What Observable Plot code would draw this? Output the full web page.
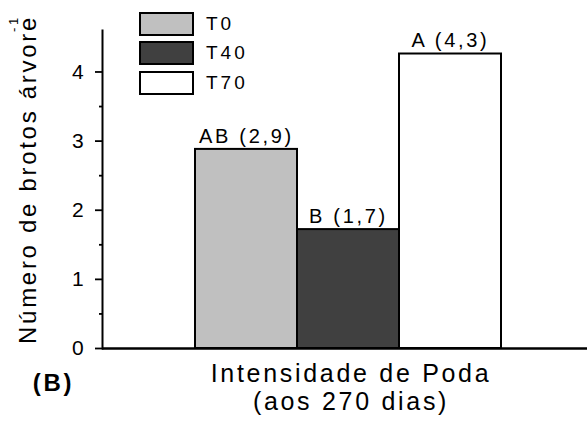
<!DOCTYPE html>
<html>
<head>
<meta charset="utf-8">
<script src="https://cdn.jsdelivr.net/npm/d3@7"></script>
<script src="https://cdn.jsdelivr.net/npm/@observablehq/plot@0.6"></script>
<style>
  html, body { margin: 0; padding: 0; background: #fff; }
  #wrap { position: relative; width: 587px; height: 426px; font-family: "Liberation Sans", Arial, sans-serif; }
  #legend { position: absolute; left: 139px; top: 9px; }
  .item { display: flex; align-items: center; height: 29.5px; }
  .sw { width: 51px; height: 20px; border: 2px solid #000; box-sizing: content-box; }
  .lab { margin-left: 12px; font-size: 19px; letter-spacing: 3px; color: #000; }
  svg text { letter-spacing: 2.7px; }
</style>
</head>
<body>
<div id="wrap"><div id="legend"></div></div>
<script>
const groups = ["T0", "T40", "T70"];
const values = [2.88, 1.72, 4.26];
const labels = ["AB (2,9)", "B (1,7)", "A (4,3)"];
const fills = ["#c0c0c0", "#404040", "#ffffff"];
const yTicks = [0, 1, 2, 3, 4];
const yMinorTicks = [0.5, 1.5, 2.5, 3.5];
const yTitle = "Número de brotos árvore";
const yTitleSup = "-1";
const xTitle = "Intensidade de Poda\n(aos 270 dias)";
const panelTag = "(B)";

const data = groups.map((g, i) => ({group: g, value: values[i], label: labels[i], fill: fills[i]}));

const chart = Plot.plot({
  width: 587,
  height: 426,
  marginLeft: 102,
  marginRight: 0,
  marginTop: 30,
  marginBottom: 78,
  style: {fontFamily: "Liberation Sans, Arial, sans-serif", color: "#000", background: "#fff"},
  x: {type: "band", domain: groups, paddingInner: 0, paddingOuter: 0.87, align: 0.52, axis: null},
  y: {domain: [0, 4.6], axis: null},
  color: {type: "identity"},
  marks: [
    Plot.barY(data, {x: "group", y: "value", fill: "fill", stroke: "#000", strokeWidth: 2}),
    Plot.ruleY([0], {stroke: "#000", strokeWidth: 2.5}),
    Plot.frame({anchor: "left", stroke: "#000", strokeWidth: 2}),
    Plot.axisY({ticks: yTicks, tickSize: 7, tickPadding: 9, tickFormat: d => d, fontSize: 21, strokeWidth: 1.8, label: null}),
    Plot.axisY({ticks: yMinorTicks, tickSize: 3, tickFormat: () => "", strokeWidth: 1.8, label: null}),
    Plot.text(data, {x: "group", y: "value", text: "label", dy: -13, fontSize: 20}),
    Plot.text([yTitle], {frameAnchor: "left", textAnchor: "middle", lineAnchor: "middle", rotate: -90, dx: -74, dy: -10, fontSize: 24}),
    Plot.text([yTitleSup], {frameAnchor: "left", textAnchor: "middle", lineAnchor: "middle", rotate: -90, dx: -89, dy: -166, fontSize: 13}),
    Plot.text([xTitle], {frameAnchor: "bottom", textAnchor: "middle", dx: 6, dy: 14, lineHeight: 1.12, fontSize: 25, lineAnchor: "top"}),
    Plot.text([panelTag], {frameAnchor: "bottom-left", textAnchor: "middle", lineAnchor: "middle", dx: -49, dy: 35, fontSize: 24, fontWeight: "bold"})
  ]
});
document.getElementById("wrap").prepend(chart);

const legend = document.getElementById("legend");
groups.forEach((g, i) => {
  const item = document.createElement("div");
  item.className = "item";
  const sw = document.createElement("div");
  sw.className = "sw";
  sw.style.background = fills[i];
  const lab = document.createElement("span");
  lab.className = "lab";
  lab.textContent = g;
  item.append(sw, lab);
  legend.append(item);
});
</script>
</body>
</html>
